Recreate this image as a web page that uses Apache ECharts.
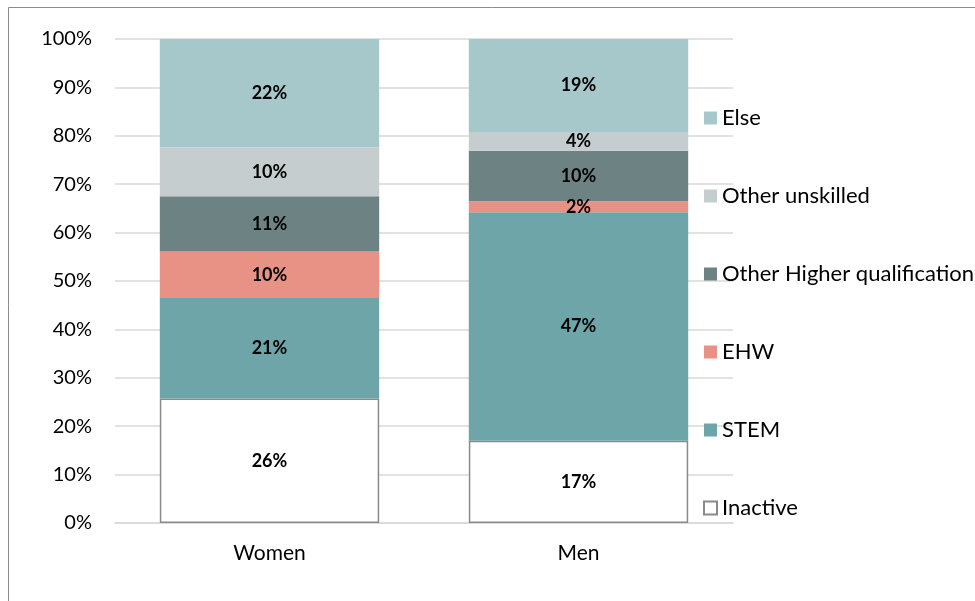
<!DOCTYPE html>
<html>
<head>
<meta charset="utf-8">
<script src="https://cdn.jsdelivr.net/npm/echarts@6/dist/echarts.min.js"></script>
<style>
    html, body { margin: 0; padding: 0; background: #fff; }
    #chart { width: 975px; height: 601px; }
</style>
</head>
<body>
<div id="chart"></div>
<script>
// 数据
var categories = ['Women', 'Men'];
var seriesNames = ['Inactive', 'STEM', 'EHW', 'Other Higher qualification', 'Other unskilled', 'Else'];
var inactive = [25.7, 17.0];
var stem = [20.8, 47.2];
var ehw = [9.6, 2.3];
var otherHigher = [11.4, 10.4];
var otherUnskilled = [10.1, 3.9];
var other = [22.4, 19.2];
var yTicks = [0, 10, 20, 30, 40, 50, 60, 70, 80, 90, 100];

var colors = ['#ffffff', '#6da5a8', '#e89286', '#6d8383', '#c5cdce', '#a7c8ca'];
var values = [inactive, stem, ehw, otherHigher, otherUnskilled, other];

var font = 'Lato, "Open Sans", sans-serif';

var series = seriesNames.map(function (name, i) {
    var s = {
        name: name,
        type: 'bar',
        stack: 'total',
        barCategoryGap: '29%',
        data: values[i],
        itemStyle: { color: colors[i] },
        label: {
            show: true,
            position: 'inside',
            color: '#000',
            fontWeight: 'bold',
            fontSize: 18,
            fontFamily: font,
            formatter: function (p) { return Math.round(p.value) + '%'; }
        }
    };
    if (name === 'Inactive') {
        s.itemStyle.borderColor = '#8a8a8a';
        s.itemStyle.borderWidth = 1.5;
    }
    return s;
});

var chart = echarts.init(document.getElementById('chart'));
chart.setOption({
    animation: false,
    backgroundColor: '#fff',
    graphic: [{
        type: 'rect',
        shape: { x: 8.5, y: 7.5, width: 1000, height: 1000 },
        style: { fill: 'none', stroke: '#8c8c8c', lineWidth: 1 },
        silent: true
    }],
    grid: { left: 115, right: 242, top: 39, bottom: 78 },
    legend: {
        orient: 'vertical',
        left: 698,
        top: 102,
        itemWidth: 13,
        itemHeight: 13,
        itemGap: 56,
        icon: 'rect',
        data: seriesNames.slice().reverse(),
        textStyle: { fontSize: 22, fontFamily: font, color: '#000', lineHeight: 22 }
    },
    xAxis: {
        type: 'category',
        data: categories,
        axisLine: { lineStyle: { color: '#d9d9d9', width: 1.5 } },
        axisTick: { show: false },
        axisLabel: { fontSize: 21, fontFamily: font, color: '#000', margin: 20 }
    },
    yAxis: {
        type: 'value',
        min: yTicks[0],
        max: yTicks[yTicks.length - 1],
        interval: 10,
        axisLine: { show: false },
        axisTick: { show: false },
        splitLine: { lineStyle: { color: '#d9d9d9', width: 1.5 } },
        axisLabel: { fontSize: 20, fontFamily: font, color: '#000', margin: 23,
            formatter: function (v) { return v + '%'; } }
    },
    series: series
});
</script>
</body>
</html>
